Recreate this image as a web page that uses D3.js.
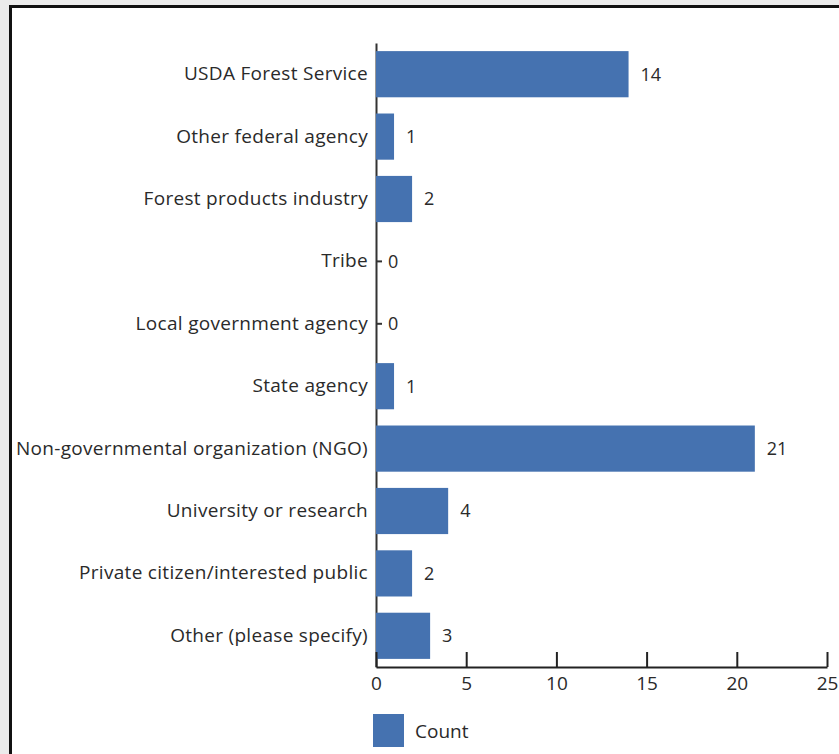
<!DOCTYPE html>
<html>
<head>
<meta charset="utf-8">
<script src="https://cdn.jsdelivr.net/npm/d3@7"></script>
<style>
  html, body { margin: 0; padding: 0; background: #ebebeb; overflow: hidden; }
  #frame {
    position: absolute; left: 9px; top: 5px;
    width: 900px; height: 800px;
    border-left: 3px solid #111; border-top: 3px solid #111;
    background: #fff;
  }
  #chart { position: absolute; left: 0; top: 0; }
  text { font-family: "Open Sans", Lato, sans-serif; fill: #2a2a2a; }
</style>
</head>
<body>
<div id="frame"></div>
<svg id="chart" width="839" height="754"></svg>
<script>
const categories = [
  "USDA Forest Service",
  "Other federal agency",
  "Forest products industry",
  "Tribe",
  "Local government agency",
  "State agency",
  "Non-governmental organization (NGO)",
  "University or research",
  "Private citizen/interested public",
  "Other (please specify)"
]
const counts = [14, 1, 2, 0, 0, 1, 21, 4, 2, 3]
const xTicks = [0, 5, 10, 15, 20, 25]
const seriesName = "Count"

const barColor = "#4572b0"
const fontFam = "'Open Sans', Lato, sans-serif"
const fontSize = 19
const margin = {top: 43, left: 376, right: 12, bottom: 87}
const width = 839, height = 754

const svg = d3.select("#chart")

const xScale = d3.scaleLinear()
  .domain([0, 25])
  .range([margin.left, width - margin.right])

const yScale = d3.scaleBand()
  .domain(categories)
  .range([margin.top, height - margin.bottom])
  .paddingInner(0.26)
  .paddingOuter(0.13)

const data = categories.map((c, i) => ({cat: c, value: counts[i]}))

// y axis: labels on the left, ticks pointing right
const yAxis = d3.axisLeft(yScale)
  .tickSizeInner(-6)
  .tickSizeOuter(0)
  .tickPadding(8)

const gy = svg.append("g")
  .attr("transform", `translate(${margin.left},0)`)
  .call(yAxis)
gy.select(".domain").attr("stroke", "#333").attr("stroke-width", 2)
gy.selectAll(".tick line").attr("stroke", "#333").attr("stroke-width", 2)
gy.selectAll(".tick text")
  .attr("font-size", fontSize)
  .attr("font-family", fontFam)
  .attr("font-weight", 500)
  .attr("letter-spacing", 0.3)
  .attr("fill", "#2a2a2a")

// bars
svg.append("g").selectAll("rect")
  .data(data)
  .join("rect")
  .attr("x", xScale(0))
  .attr("y", d => yScale(d.cat))
  .attr("width", d => xScale(d.value) - xScale(0))
  .attr("height", yScale.bandwidth())
  .attr("fill", barColor)

// value labels
svg.append("g").selectAll("text")
  .data(data)
  .join("text")
  .attr("x", d => xScale(d.value) + 12)
  .attr("y", d => yScale(d.cat) + yScale.bandwidth() / 2)
  .attr("dy", "0.35em")
  .attr("font-size", fontSize - 1)
  .attr("font-weight", 500)
  .text(d => d.value)

// x axis with ticks pointing up
const xAxis = d3.axisBottom(xScale)
  .tickValues(xTicks)
  .tickSizeInner(-15)
  .tickSizeOuter(0)
  .tickPadding(10)

const gx = svg.append("g")
  .attr("transform", `translate(0,${height - margin.bottom})`)
  .call(xAxis)
gx.select(".domain").attr("stroke", "#222").attr("stroke-width", 2)
gx.selectAll(".tick line").attr("stroke", "#222").attr("stroke-width", 2)
gx.selectAll(".tick text")
  .attr("font-size", fontSize)
  .attr("font-family", fontFam)
  .attr("font-weight", 500)
  .attr("fill", "#2a2a2a")

// legend
const legend = svg.append("g").attr("transform", "translate(373,714)")
legend.append("rect")
  .attr("width", 31).attr("height", 33)
  .attr("fill", barColor)
legend.append("text")
  .attr("x", 42).attr("y", 17)
  .attr("dy", "0.35em")
  .attr("font-size", fontSize)
  .attr("font-weight", 500)
  .text(seriesName)
</script>
</body>
</html>
